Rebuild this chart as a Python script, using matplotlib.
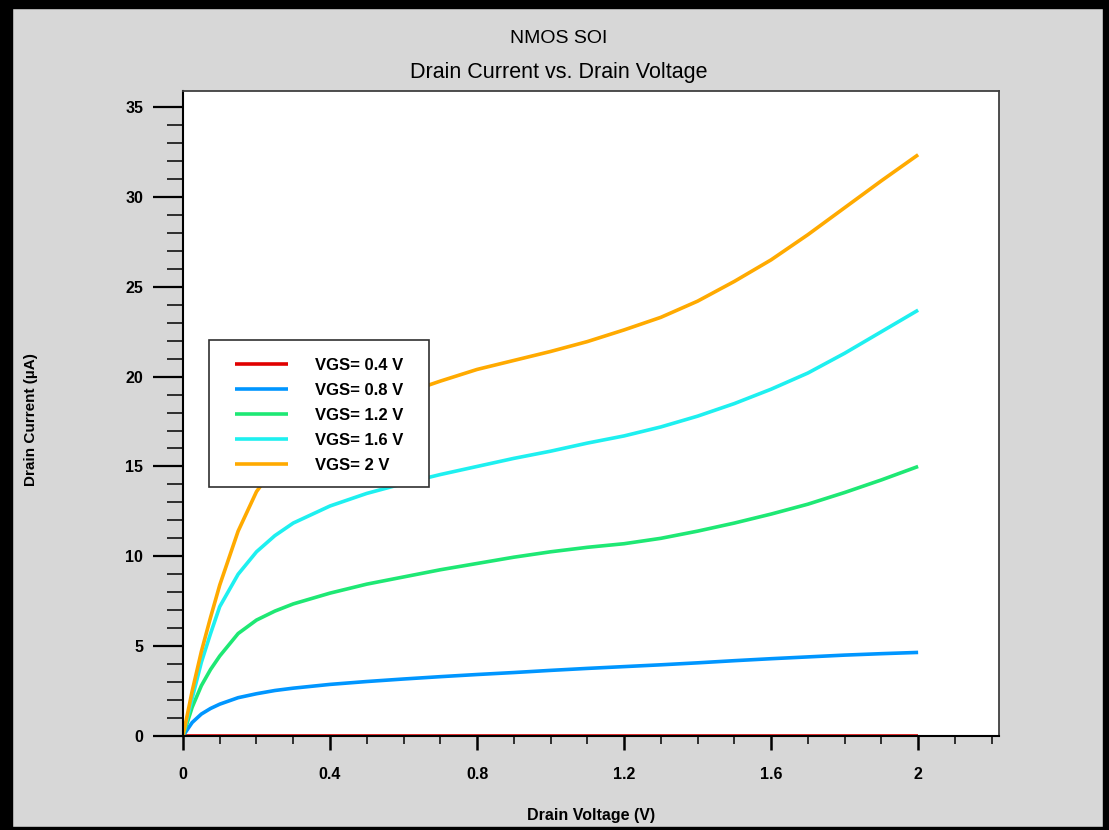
import matplotlib.pyplot as plt
from matplotlib.patches import Rectangle
from matplotlib.ticker import MultipleLocator, FixedLocator

# Drain voltage sweep (V)
vds = [0, 0.025, 0.05, 0.075, 0.1, 0.15, 0.2, 0.25, 0.3, 0.4, 0.5, 0.6, 0.7,
       0.8, 0.9, 1.0, 1.1, 1.2, 1.3, 1.4, 1.5, 1.6, 1.7, 1.8, 1.9, 2.0]

# Drain current (uA) for each gate voltage
id_vgs_04 = [0] * len(vds)
id_vgs_08 = [0, 0.75, 1.22, 1.53, 1.77, 2.13, 2.35, 2.53, 2.66, 2.87, 3.03, 3.17, 3.3,
             3.42, 3.53, 3.65, 3.76, 3.86, 3.96, 4.07, 4.19, 4.3, 4.4, 4.5, 4.58, 4.65]
id_vgs_12 = [0, 1.6, 2.8, 3.7, 4.45, 5.7, 6.45, 6.95, 7.35, 7.95, 8.45, 8.85, 9.25,
             9.6, 9.95, 10.25, 10.5, 10.7, 11.0, 11.4, 11.85, 12.35, 12.9, 13.55, 14.25, 15.0]
id_vgs_16 = [0, 2.1, 4.1, 5.7, 7.2, 9.0, 10.25, 11.15, 11.85, 12.8, 13.5, 14.05, 14.55,
             15.0, 15.45, 15.85, 16.3, 16.7, 17.2, 17.8, 18.5, 19.3, 20.2, 21.3, 22.5, 23.7]
id_vgs_20 = [0, 2.5, 4.7, 6.6, 8.4, 11.4, 13.6, 15.0, 16.05, 17.4, 18.3, 19.05, 19.75,
             20.4, 20.9, 21.4, 21.95, 22.6, 23.3, 24.2, 25.3, 26.5, 27.9, 29.4, 30.9, 32.35]

labels = ['VGS= 0.4 V', 'VGS= 0.8 V', 'VGS= 1.2 V', 'VGS= 1.6 V', 'VGS= 2 V']
colors = ['#e00000', '#0096ff', '#1ee874', '#1ef0f0', '#ffaa00']
curves = [id_vgs_04, id_vgs_08, id_vgs_12, id_vgs_16, id_vgs_20]

plt.rcParams['font.family'] = ['Liberation Sans', 'DejaVu Sans']
bg = '#d7d7d7'

fig = plt.figure(figsize=(11.09, 8.30), dpi=100, facecolor=bg)
ax = fig.add_axes([0.165, 0.1133, 0.7358, 0.7771])
ax.set_facecolor('white')

for ids, col, lab in zip(curves, colors, labels):
    ax.plot(vds, ids, color=col, lw=2.6, label=lab, solid_capstyle='butt')

ax.set_xlim(0, 2.22)
ax.set_ylim(0, 35.9)

ax.xaxis.set_major_locator(FixedLocator([0, 0.4, 0.8, 1.2, 1.6, 2.0]))
ax.xaxis.set_minor_locator(MultipleLocator(0.1))
ax.yaxis.set_major_locator(MultipleLocator(5))
ax.yaxis.set_minor_locator(MultipleLocator(1))
ax.set_xticklabels(['0', '0.4', '0.8', '1.2', '1.6', '2'])

ax.tick_params(axis='y', which='major', direction='out', length=21.6, width=1.6,
               pad=7, labelsize=11.5)
ax.tick_params(axis='y', which='minor', direction='out', length=11.5, width=1.1)
ax.tick_params(axis='x', which='major', direction='out', length=10, width=1.8,
               pad=12, labelsize=11.5)
ax.tick_params(axis='x', which='minor', direction='out', length=6, width=1.1)
for lbl in ax.get_xticklabels() + ax.get_yticklabels():
    lbl.set_fontweight('bold')

ax.spines['left'].set_linewidth(1.5)
ax.spines['bottom'].set_linewidth(1.5)
ax.spines['top'].set_color('#404040')
ax.spines['right'].set_color('#404040')
ax.spines['top'].set_linewidth(1.3)
ax.spines['right'].set_linewidth(1.3)

ax.set_xlabel('Drain Voltage (V)', fontsize=11.5, fontweight='bold')
ax.set_ylabel('Drain Current (µA)', fontsize=11, fontweight='bold')
ax.yaxis.set_label_coords(-0.178, 0.49)
ax.xaxis.set_label_coords(0.5, -0.112)

fig.text(0.504, 0.954, 'NMOS SOI', ha='center', va='center', fontsize=14)
fig.text(0.504, 0.913, 'Drain Current vs. Drain Voltage', ha='center',
         va='center', fontsize=15.5)

# legend box drawn separately so its padding can be set freely
ax.add_patch(Rectangle((0.0319, 0.386), 0.2696, 0.228, transform=ax.transAxes,
                       facecolor='white', edgecolor='#303030', lw=1.2, zorder=4))
leg = ax.legend(loc='upper left', bbox_to_anchor=(0.0637, 0.5863), borderaxespad=0,
                frameon=False, prop={'weight': 'bold', 'size': 12},
                handlelength=3.2, handletextpad=1.6, borderpad=0,
                labelspacing=0.6)
leg.set_zorder(5)

# window border
fig.add_artist(Rectangle((0, 0), 0.0108, 1, transform=fig.transFigure, color='black'))
fig.add_artist(Rectangle((0, 0.9904), 1, 0.0096, transform=fig.transFigure, color='black'))
fig.add_artist(Rectangle((0.9946, 0), 0.0054, 1, transform=fig.transFigure, color='black'))
fig.add_artist(Rectangle((0, 0), 1, 0.0036, transform=fig.transFigure, color='black'))

fig.savefig('out.png', dpi=100, facecolor=bg)
